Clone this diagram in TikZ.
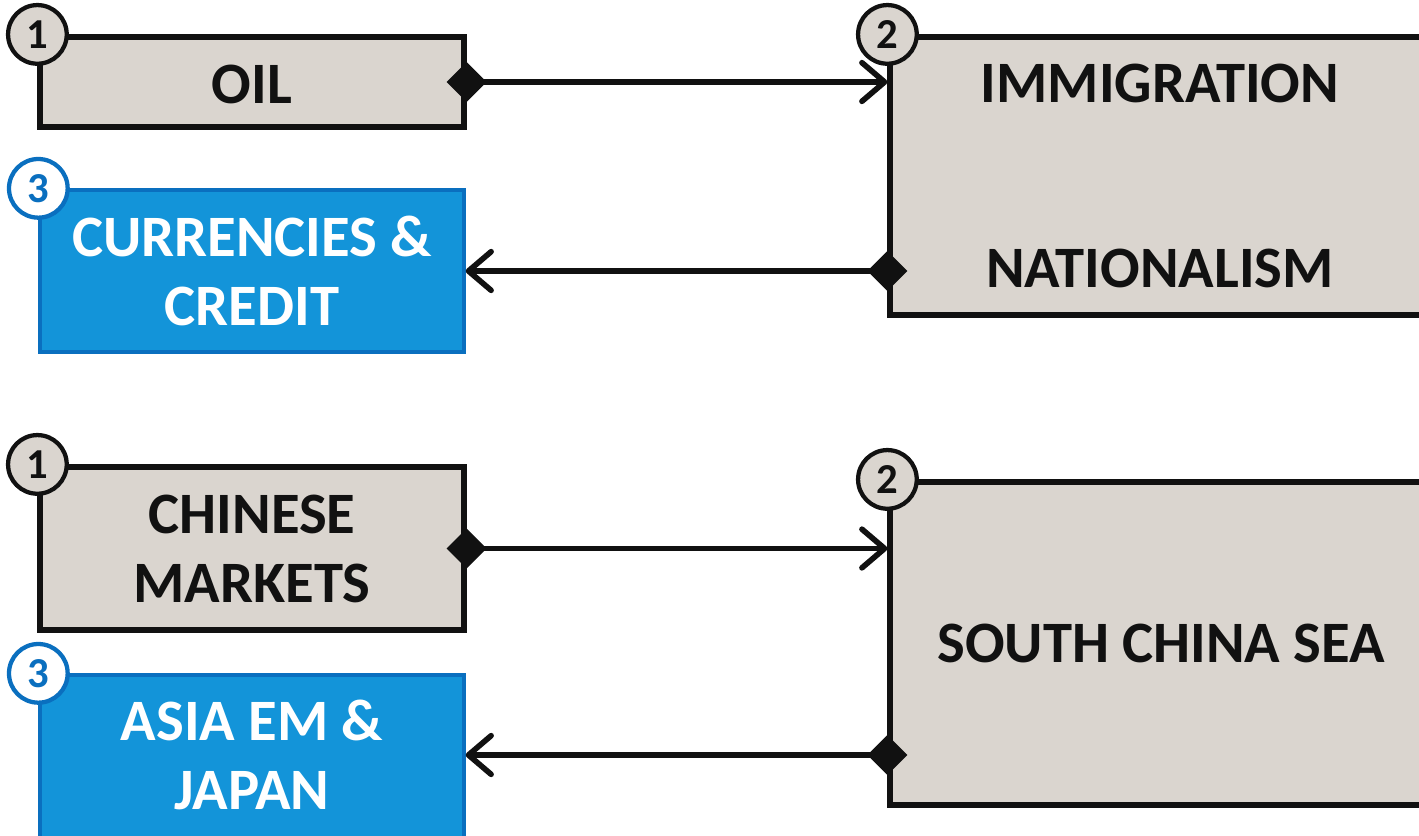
\documentclass[tikz,border=0pt]{standalone}
\usepackage{fontspec}
\setmainfont{Carlito}
\usetikzlibrary{arrows.meta,fit}
\definecolor{boxgray}{HTML}{DAD5CF}
\definecolor{boxblue}{HTML}{1394D9}
\definecolor{edgeblue}{HTML}{0A6FBF}
\definecolor{ink}{HTML}{111111}
\begin{document}
\begin{tikzpicture}[x=0.75pt,y=-0.75pt,
  graybox/.style={rectangle, draw=ink, fill=boxgray, line width=3.9pt, inner sep=0pt},
  bluebox/.style={rectangle, draw=edgeblue, fill=boxblue, line width=2.5pt, inner sep=0pt},
  caption/.style={font=\bfseries\fontsize{44}{52}\selectfont, align=center, inner sep=0pt},
  numgray/.style={circle, draw=ink, fill=boxgray, text=ink, line width=3.2pt, minimum size=44pt,
    inner sep=0pt, font=\bfseries\fontsize{32}{33}\selectfont},
  numblue/.style={circle, draw=edgeblue, fill=white, text=edgeblue, line width=3.2pt, minimum size=44pt,
    inner sep=0pt, font=\bfseries\fontsize{32}{33}\selectfont},
  link/.style={draw=ink, line width=4.2pt, shorten <=-15pt,
    {Diamond[length=30pt,width=30pt]}-{Straight Barb[length=17pt,width=29pt,round]}},
]
\useasboundingbox (0,0) rectangle (1419,835);
\fill[white] (0,0) rectangle (1419,835);
\clip (0,0) rectangle (1419,835);

% upper group
\node[graybox, fit={(40,37) (464,127)}] (oil) {};
\node[caption, text=ink] (oiltxt) at (252,84) {OIL};
\node[bluebox, fit={(40,190) (464,352)}] (cur) {};
\node[caption, text=white] (curtxt) at (252,271) {CURRENCIES \&\\CREDIT};
\node[graybox, fit={(890,37) (1432,315)}] (imm) {};
\node[caption, text=ink] (immtop) at (1160,83) {IMMIGRATION};
\node[caption, text=ink] (immbot) at (1160,268) {NATIONALISM};

% lower group
\node[graybox, fit={(40,467) (464,630)}] (chn) {};
\node[caption, text=ink] (chntxt) at (252,549) {CHINESE\\MARKETS};
\node[bluebox, fit={(40,675) (464,850)}] (asia) {};
\node[caption, text=white] (asiatxt) at (252,755) {ASIA EM \&\\JAPAN};
\node[graybox, fit={(890,482) (1432,805)}] (scs) {};
\node[caption, text=ink] (scstxt) at (1161,643) {SOUTH CHINA SEA};

% connectors
\draw[link] (oil.east) -- (oil.east -| imm.west);
\draw[link] (cur.east -| imm.west) -- (cur.east);
\draw[link] (chn.east) -- (chn.east -| scs.west);
\draw[link] (asiatxt -| scs.west) -- (asiatxt -| asia.east);

% step numbers
\node[numgray] (n1a) at (oil.north west) {1};
\node[numgray] (n2a) at (imm.north west) {2};
\node[numblue] (n3a) at (cur.north west) {3};
\node[numgray] (n1b) at (chn.north west) {1};
\node[numgray] (n2b) at (scs.north west) {2};
\node[numblue] (n3b) at (asia.north west) {3};
\end{tikzpicture}
\end{document}
